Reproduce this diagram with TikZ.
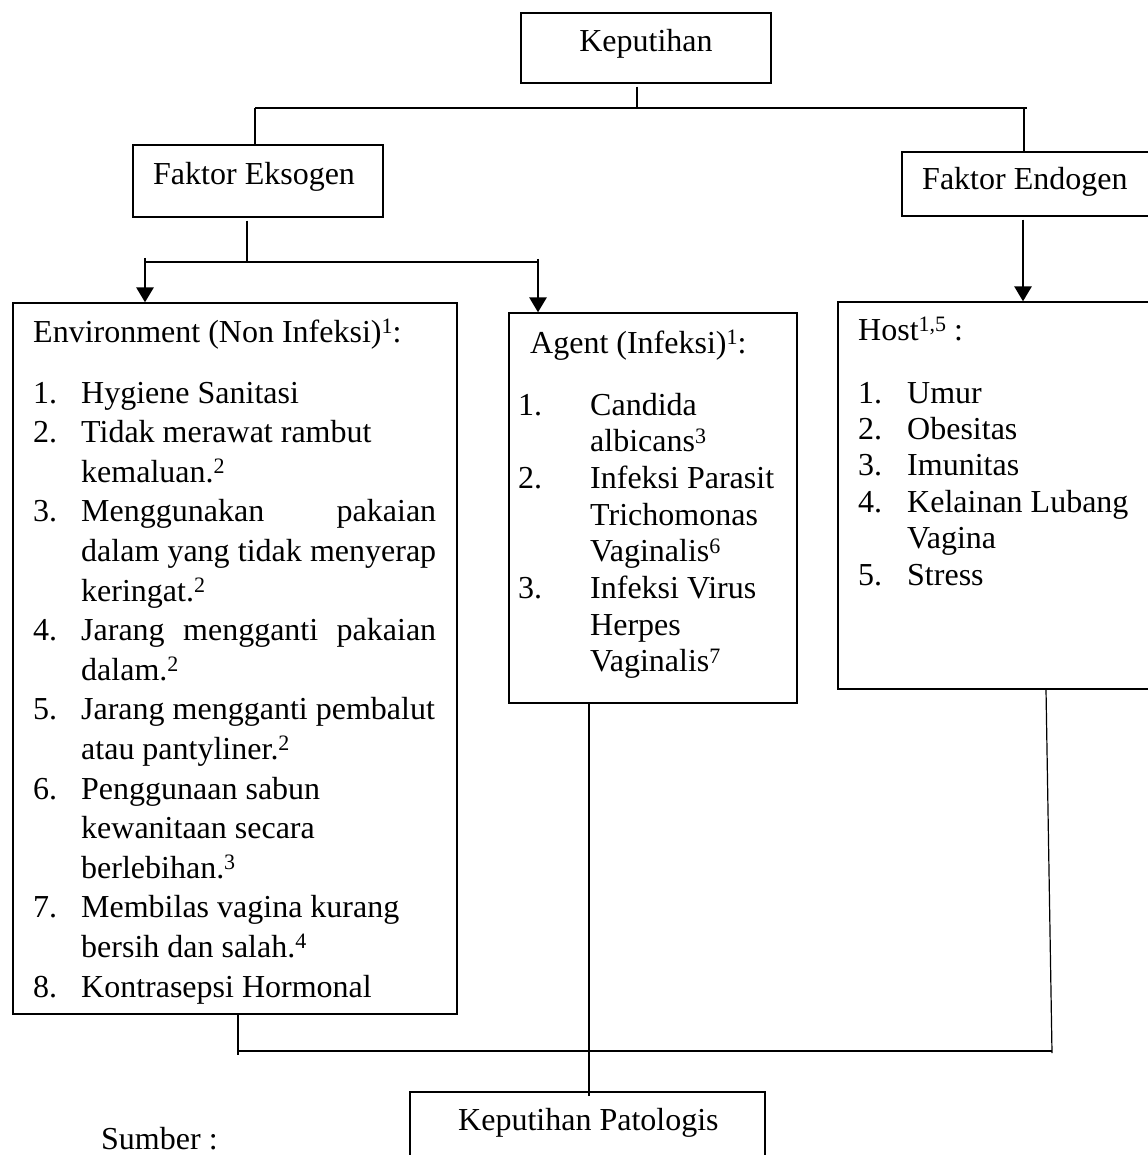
\documentclass[tikz,border=0pt]{standalone}
\usepackage{fontspec}
\setmainfont{Liberation Serif}
\usetikzlibrary{arrows.meta}
\newcommand\supx[1]{\raisebox{8.5pt}{\fontsize{22}{22}\selectfont #1}}
\newcommand\itm[2]{\makebox[#1][l]{#2}}
\begin{document}
\begin{tikzpicture}[x=1pt,y=-1pt,
  box/.style={draw, line width=1.3pt, rectangle, inner sep=0pt},
  txt/.style={inner sep=0pt, font=\fontsize{32}{38}\selectfont},
  thinline/.style={line width=1.2pt},
  thickline/.style={line width=2.8pt},
  arr/.style={line width=2.8pt, -{Triangle[width=17pt,length=15pt]}}]
\useasboundingbox (0,0) rectangle (1147,1155);

% boxes
\node[box, minimum width=250pt, minimum height=70pt] (kep) at (646,48) {};
\node[box, minimum width=250pt, minimum height=72pt] (eks) at (258,181) {};
\node[box, minimum width=248pt, minimum height=64pt] (endo) at (1026,184) {};
\node[box, minimum width=444pt, minimum height=711pt] (env) at (235,658.5) {};
\node[box, minimum width=288pt, minimum height=390pt] (ag) at (653,508) {};
\node[box, minimum width=312pt, minimum height=387pt] (host) at (994,495.5) {};
\node[box, minimum width=355pt, minimum height=68pt] (pat) at (587.5,1126) {};

% titles
\node[txt, anchor=base] (kept) at (646,52) {Keputihan};
\node[txt, anchor=base west] (ekst) at (153,185) {Faktor Eksogen};
\node[txt, anchor=base west] (endot) at (922,190) {Faktor Endogen};
\node[txt, anchor=base west] (patt) at (458,1130) {Keputihan Patologis};
\node[txt, anchor=base west] (sumber) at (101,1149) {Sumber :};

% environment list
\node[txt, anchor=base west] (envtxt) at (33,342) {\parbox[t]{430pt}{\raggedright\fontsize{32}{39.6}\selectfont
Environment (Non Infeksi)\supx{1}:\\[21.4pt]
\itm{48pt}{1.}Hygiene Sanitasi\\
\itm{48pt}{2.}Tidak merawat rambut\\
\hspace*{48pt}kemaluan.\supx{2}\\
\itm{48pt}{3.}\makebox[355pt][s]{Menggunakan\hfill pakaian}\\
\hspace*{48pt}\makebox[355pt][s]{dalam yang tidak menyerap}\\
\hspace*{48pt}keringat.\supx{2}\\
\itm{48pt}{4.}\makebox[355pt][s]{Jarang\hfill mengganti\hfill pakaian}\\
\hspace*{48pt}dalam.\supx{2}\\
\itm{48pt}{5.}Jarang mengganti pembalut\\
\hspace*{48pt}atau pantyliner.\supx{2}\\
\itm{48pt}{6.}Penggunaan sabun\\
\hspace*{48pt}kewanitaan secara\\
\hspace*{48pt}berlebihan.\supx{3}\\
\itm{48pt}{7.}Membilas vagina kurang\\
\hspace*{48pt}bersih dan salah.\supx{4}\\
\itm{48pt}{8.}Kontrasepsi Hormonal}};

% agent list
\node[txt, anchor=base west] (agtxt) at (518,353) {\parbox[t]{275pt}{\raggedright\fontsize{32}{36.7}\selectfont
\hspace*{12pt}Agent (Infeksi)\supx{1}:\\[25.3pt]
\itm{72pt}{1.}Candida\\
\hspace*{72pt}albicans\supx{3}\\
\itm{72pt}{2.}Infeksi Parasit\\
\hspace*{72pt}Trichomonas\\
\hspace*{72pt}Vaginalis\supx{6}\\
\itm{72pt}{3.}Infeksi Virus\\
\hspace*{72pt}Herpes\\
\hspace*{72pt}Vaginalis\supx{7}}};

% host list
\node[txt, anchor=base west] (hosttxt) at (858,340) {\parbox[t]{280pt}{\raggedright\fontsize{32}{36.4}\selectfont
Host\supx{1,5} :\\[26.6pt]
\itm{49pt}{1.}Umur\\
\itm{49pt}{2.}Obesitas\\
\itm{49pt}{3.}Imunitas\\
\itm{49pt}{4.}Kelainan Lubang\\
\hspace*{49pt}Vagina\\
\itm{49pt}{5.}Stress}};

% top connectors
\coordinate (kj) at (637,108);
\coordinate (hl) at (255,108);
\coordinate (hr) at (1027,108);
\coordinate (hr2) at (1024,108);
\draw[thinline] ([yshift=-3pt]kep.south -| kj) -- (kj);
\draw[thinline] (hl) -- (hr);
\draw[thickline] (hl) -- (hl |- eks.north);
\draw[thickline] (hr2) -- (hr2 |- endo.north);

% eksogen connectors
\coordinate (ej) at (247,262);
\coordinate (el) at (145,262);
\coordinate (er) at (538,262);
\draw[thinline] ([yshift=-3pt]eks.south -| ej) -- (ej);
\draw[thinline] (el) -- (er);
\draw[arr] ([yshift=4pt]el) -- (el |- env.north);
\draw[arr] ([yshift=3pt]er) -- (er |- ag.north);

% endogen arrow
\coordinate (ea) at (1023,219);
\draw[arr] ([yshift=-3pt]endo.south -| ea) -- (ea |- host.north);

% bottom connectors
\coordinate (bl) at (238,1051);
\coordinate (br) at (1052,1051);
\coordinate (hb) at (1046,689);
\coordinate (am) at (589,703);
\draw[thinline] (env.south -| bl) -- ([yshift=-4pt]bl);
\draw[thinline] (bl) -- (br);
\draw[thinline] (host.south -| hb) -- ([yshift=-2pt]br);
\draw[thinline] (ag.south -| am) -- ([yshift=-5pt]pat.north -| am);
\end{tikzpicture}
\end{document}
